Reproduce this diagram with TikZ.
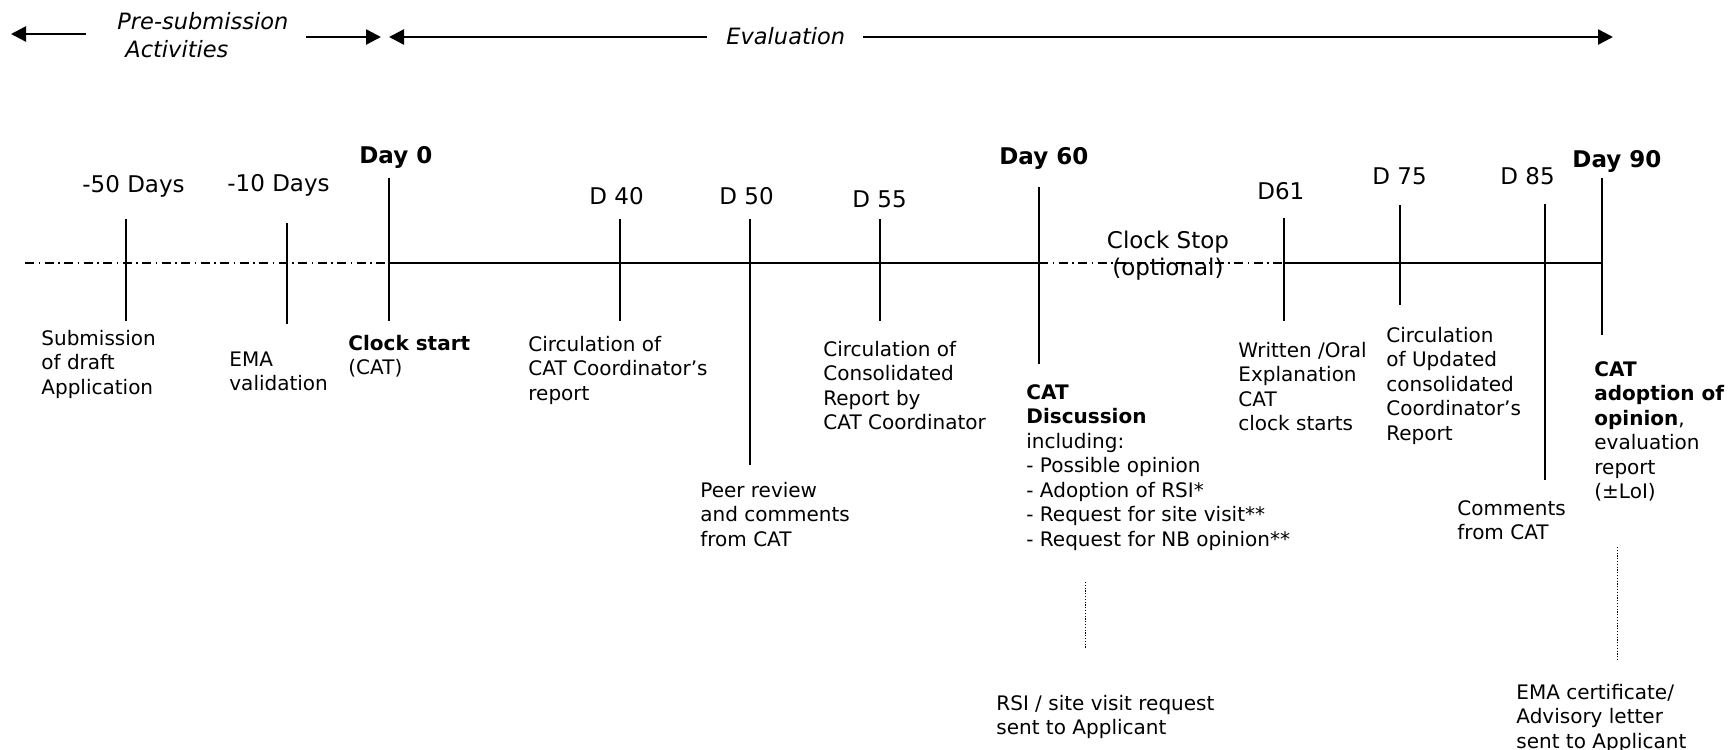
\documentclass[tikz,border=0pt]{standalone}
\usepackage{fontspec}
\setmainfont{DejaVu Sans}
\usetikzlibrary{arrows.meta}

\tikzset{
  daytick/.style={line width=0.8pt},
  clockoff/.style={line width=0.8pt, dash pattern=on 4.5pt off 2.25pt on 0.75pt off 2.25pt},
  sentline/.style={line width=0.5pt, dash pattern=on 0.6pt off 0.8pt},
  period/.style={line width=1.2pt, -{Triangle[length=7.5pt,width=7.5pt]}},
  daytxt/.style={anchor=base west, inner sep=0pt, font=\fontsize{11.5}{13.5}\selectfont},
  bodytxt/.style={anchor=base west, inner sep=0pt, align=left, font=\fontsize{10}{12.25}\selectfont},
  phasetxt/.style={anchor=base west, inner sep=0pt, font=\fontsize{11.25}{13.5}\selectfont\itshape}
}

\begin{document}
\begin{tikzpicture}[x=0.5pt,y=0.5pt,yscale=-1,xscale=1]
\useasboundingbox (0,0) rectangle (1731,750);

%Phase arrows
\draw [period] (86,34) -- (11,34) ;
\draw [period] (306,37) -- (381,37) ;
\draw [period] (707,37) -- (389,37) ;
\draw [period] (863,37) -- (1613,37) ;

%Time line
\draw [clockoff] (25,263) -- (389,263) ;
\draw [daytick] (389,263) -- (1039,263) ;
\draw [clockoff] (1039,263) -- (1284,263) ;
\draw [daytick] (1284,263) -- (1602,263) ;

%Straight Lines: day ticks
\draw [daytick] (126,219) -- (126,321) ;
\draw [daytick] (287,223) -- (287,324) ;
\draw [daytick] (389,178) -- (389,321) ;
\draw [daytick] (620,219) -- (620,321) ;
\draw [daytick] (750,219) -- (750,465) ;
\draw [daytick] (880,219) -- (880,321) ;
\draw [daytick] (1039,187) -- (1039,364) ;
\draw [daytick] (1284,218) -- (1284,321) ;
\draw [daytick] (1400,205) -- (1400,305) ;
\draw [daytick] (1545,204) -- (1545,480) ;
\draw [daytick] (1602,178) -- (1602,335) ;

%Straight Lines: letters sent
\draw [sentline] (1085,582) -- (1085,649) ;
\draw [sentline] (1617,547) -- (1617,660) ;

% Text Node
\draw (117,29) node (presub) [phasetxt] {Pre-submission};
\draw (125,57) node (preact) [phasetxt] {Activities};
\draw (726,44) node (evalu) [phasetxt] {Evaluation};

% Text Node
\draw (82,192) node (m50) [daytxt] {-50 Days};
\draw (227,191) node (m10) [daytxt] {-10 Days};
\draw (359,163) node (day0) [daytxt] {\textbf{Day 0}};
\draw (589,204) node (d40) [daytxt] {D 40};
\draw (719,204) node (d50) [daytxt] {D 50};
\draw (852,207) node (d55) [daytxt] {D 55};
\draw (999,164) node (day60) [daytxt] {\textbf{Day 60}};
\draw (1257,199) node (d61) [daytxt] {D61};
\draw (1372,184) node (d75) [daytxt] {D 75};
\draw (1500,184) node (d85) [daytxt] {D 85};
\draw (1572,167) node (day90) [daytxt] {\textbf{Day 90}};
\draw (1168,275) node (stop) [daytxt, anchor=base, align=center] {Clock Stop\\(optional)};

% Text Node (y = baseline of last line)
\draw (41,394) node (subm) [bodytxt] {Submission\\of draft\\Application};
\draw (229,390.5) node (valid) [bodytxt] {EMA\\validation};
\draw (348,374.5) node (start) [bodytxt] {\textbf{Clock start}\\(CAT)};
\draw (528,400) node (circ) [bodytxt] {Circulation of\\CAT Coordinator's\\report};
\draw (700,546) node (peer) [bodytxt] {Peer review\\and comments\\from CAT};
\draw (823,429.5) node (consol) [bodytxt] {Circulation of\\Consolidated\\Report by\\CAT Coordinator};
\draw (1026,546) node (discus) [bodytxt] {\textbf{CAT}\\\textbf{Discussion}\\including:\\- Possible opinion\\- Adoption of RSI*\\- Request for site visit**\\- Request for NB opinion**};
\draw (1238,430.5) node (oral) [bodytxt] {Written /Oral\\Explanation\\CAT\\clock starts};
\draw (1386,440) node (update) [bodytxt] {Circulation\\of Updated\\consolidated\\Coordinator's\\Report};
\draw (1457,539.5) node (comm) [bodytxt] {Comments\\from CAT};
\draw (1594,498.5) node (adopt) [bodytxt] {\textbf{CAT}\\\textbf{adoption of}\\\textbf{opinion}, \\evaluation\\report\\(±LoI)};
\draw (996,734.5) node (rsi) [bodytxt] {RSI / site visit request\\sent to Applicant};
\draw (1516,748) node (cert) [bodytxt] {EMA certificate/\\Advisory letter\\sent to Applicant};

\end{tikzpicture}
\end{document}
